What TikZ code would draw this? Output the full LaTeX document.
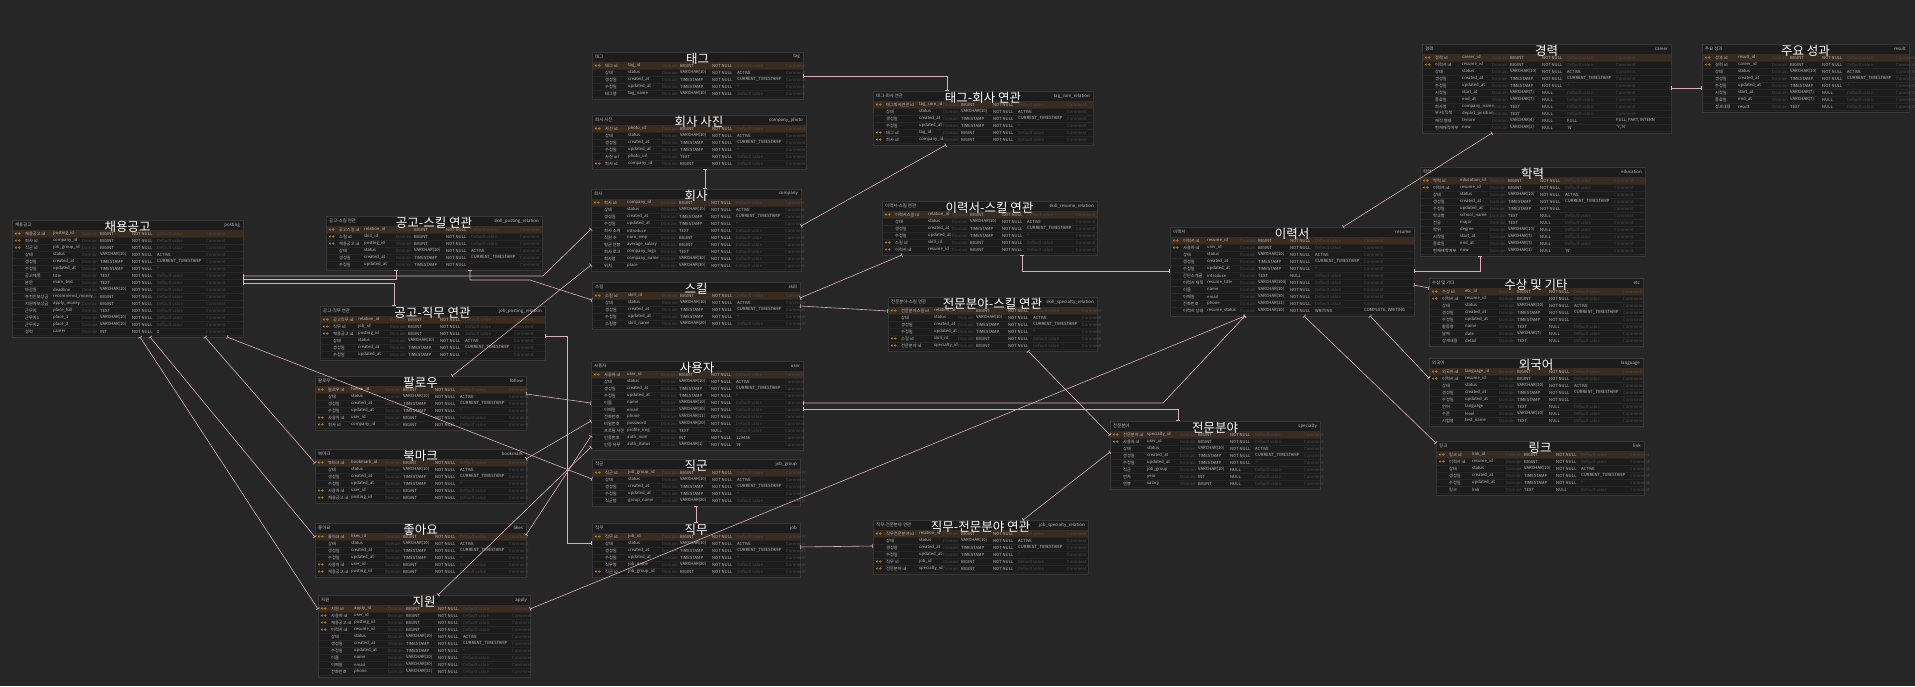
\documentclass[tikz,border=0pt]{standalone}
\usepackage{fontspec}
\setmainfont{Noto Sans CJK KR}
\usetikzlibrary{arrows.meta,calc}
\definecolor{bgc}{HTML}{262626}
\definecolor{tabfill}{HTML}{1C1C1C}
\definecolor{tabline}{HTML}{363636}
\definecolor{pkfill}{HTML}{3A2B20}
\definecolor{txt}{HTML}{BDBDBD}
\definecolor{dimc}{HTML}{4A4A4A}
\definecolor{keyc}{HTML}{B8862B}
\definecolor{relc}{HTML}{D9AEBF}
\definecolor{sepc}{HTML}{262626}
\tikzset{
 tabbox/.style={draw=tabline, fill=tabfill, line width=0.5pt, inner sep=0pt, rectangle},
 cell/.style={font=\fontsize{4.2}{4.5}\selectfont, text=txt, inner sep=0pt, anchor=west},
 dimcell/.style={cell, text=dimc},
 hdr/.style={font=\fontsize{4.4}{5}\selectfont, text=txt, inner sep=0pt},
 ttl/.style={font=\fontsize{12.5}{13}\selectfont, text=white, inner sep=0pt},
 rowsep/.style={draw=sepc, line width=0.4pt},
 keyicon/.style={draw=keyc, line width=0.45pt},
 rel/.style={draw=relc, line width=0.6pt, >={Bar[width=4pt]}, <->},
}
\newcommand\pp[3]{($(#1.north west)+(#2,#3)$)}
\def\px{36}
\newcommand\T[8]{%
 \pgfmathsetmacro\tx{#2}\pgfmathsetmacro\ty{#3}\pgfmathsetmacro\tw{#4}%
 \pgfmathsetmacro\th{12+7*#5}%
 \node[tabbox, minimum width=\tw pt, minimum height=\th pt, anchor=north west] (#1) at (\tx,\ty) {};
 \fill[pkfill] (\tx+0.5,\ty+10) rectangle (\tx+\tw-0.5,\ty+17);
 \node[hdr, anchor=west] at (\tx+3,\ty+5) {#6};
 \node[hdr, anchor=east] at (\tx+\tw-3,\ty+5) {#8};
 \node[ttl] at (\tx+0.5*\tw,\ty+6.5) {#7};
}
\newcommand\Rw[8]{%
 \pgfmathsetmacro\ry{\ty+13.5+7*(#1-1)}%
 \draw[rowsep] (\tx+0.5,\ry+3.5) -- (\tx+\tw-0.5,\ry+3.5);
 \if\relax\detokenize{#2}\relax\else
  \draw[keyicon] (\tx+4.2,\ry) circle (0.9pt) (\tx+7.4,\ry) circle (0.9pt);
 \fi
 \node[cell] at (\tx+13,\ry) {#3};
 \node[cell] at (\tx+\px,\ry) {#4};
 \node[dimcell] at (\tx+70,\ry) {Domain};
 \node[cell] at (\tx+88,\ry) {#5};
 \node[cell] at (\tx+120,\ry) {#6};
 \if\relax\detokenize{#7}\relax \node[dimcell] at (\tx+145,\ry) {Default value};\else \node[cell] at (\tx+145,\ry) {#7};\fi
 \if\relax\detokenize{#8}\relax \node[dimcell] at (\tx+194,\ry) {Comment};\else \node[cell] at (\tx+194,\ry) {#8};\fi
}
\newcommand\Rst[1]{\Rw{#1}{}{상태}{status}{VARCHAR(10)}{NOT NULL}{ACTIVE}{}}
\newcommand\Rcr[1]{\Rw{#1}{}{생성일}{created\_at}{TIMESTAMP}{NOT NULL}{CURRENT\_TIMESTAMP}{}}
\newcommand\Rup[1]{\Rw{#1}{}{수정일}{updated\_at}{TIMESTAMP}{NOT NULL}{..}{}}
\newcommand\Rid[4]{\Rw{#1}{K}{#2}{#3}{BIGINT}{NOT NULL}{}{}}
\begin{document}
\begin{tikzpicture}[x=1pt,y=-1pt]
\useasboundingbox (0,0) rectangle (1915,686);
\fill[bgc] (0,0) rectangle (1915,686);

% ---------------- tables ----------------
\def\px{41}
\T{posting}{12}{220}{231}{15}{채용공고}{채용공고}{posting}
\Rid{1}{채용공고 id}{posting\_id}{}
\Rid{2}{회사 id}{company\_id}{}
\Rid{3}{직군 id}{job\_group\_id}{}
\Rst{4}\Rcr{5}\Rup{6}
\Rw{7}{}{공고제목}{title}{TEXT}{NOT NULL}{}{}
\Rw{8}{}{본문}{main\_text}{TEXT}{NOT NULL}{}{}
\Rw{9}{}{마감일}{deadline}{VARCHAR(10)}{NOT NULL}{}{}
\Rw{10}{}{추천인보상금}{recommend\_money}{BIGINT}{NOT NULL}{}{}
\Rw{11}{}{지원자보상금}{apply\_money}{BIGINT}{NOT NULL}{}{}
\Rw{12}{}{근무지}{place\_full}{TEXT}{NOT NULL}{}{}
\Rw{13}{}{근무지1}{place\_1}{VARCHAR(10)}{NOT NULL}{}{}
\Rw{14}{}{근무지2}{place\_2}{VARCHAR(10)}{NOT NULL}{}{}
\Rw{15}{}{경력}{career}{INT}{NOT NULL}{0}{}
\def\px{38}
\T{skillposting}{326}{216}{216}{6}{공고-스킬 연관}{공고-스킬 연관}{skill\_posting\_relation}
\Rid{1}{공고스킬 id}{relation\_id}{}
\Rid{2}{스킬 id}{skill\_id}{}
\Rid{3}{채용공고 id}{posting\_id}{}
\Rst{4}\Rcr{5}\Rup{6}

\T{jobposting}{320}{306}{225}{6}{공고-직무 연관}{공고-직무 연관}{job\_posting\_relation}
\Rid{1}{공고직무 id}{relation\_id}{}
\Rid{2}{직무 id}{job\_id}{}
\Rid{3}{채용공고 id}{posting\_id}{}
\Rst{4}\Rcr{5}\Rup{6}
\def\px{36}
\T{follow}{315}{376}{211}{6}{팔로우}{팔로우}{follow}
\Rid{1}{팔로우 id}{follow\_id}{}
\Rst{2}\Rcr{3}\Rup{4}
\Rid{5}{사용자 id}{user\_id}{}
\Rid{6}{회사 id}{company\_id}{}

\T{bookmark}{315}{449}{211}{6}{북마크}{북마크}{bookmark}
\Rid{1}{북마크 id}{bookmark\_id}{}
\Rst{2}\Rcr{3}\Rup{4}
\Rid{5}{사용자 id}{user\_id}{}
\Rid{6}{채용공고 id}{posting\_id}{}

\T{likes}{315}{523}{211}{6}{좋아요}{좋아요}{likes}
\Rid{1}{좋아요 id}{likes\_id}{}
\Rst{2}\Rcr{3}\Rup{4}
\Rid{5}{사용자 id}{user\_id}{}
\Rid{6}{채용공고 id}{posting\_id}{}

\T{apply}{318}{595}{212}{10}{지원}{지원}{apply}
\Rid{1}{지원 id}{apply\_id}{}
\Rid{2}{사용자 id}{user\_id}{}
\Rid{3}{채용공고 id}{posting\_id}{}
\Rid{4}{이력서 id}{resume\_id}{}
\Rst{5}\Rcr{6}\Rup{7}
\Rw{8}{}{이름}{name}{VARCHAR(10)}{NOT NULL}{}{}
\Rw{9}{}{이메일}{email}{VARCHAR(30)}{NOT NULL}{}{}
\Rw{10}{}{전화번호}{phone}{VARCHAR(11)}{NOT NULL}{}{}

\T{tag}{592}{52}{211}{5}{태그}{태그}{tag}
\Rid{1}{태그 id}{tag\_id}{}
\Rst{2}\Rcr{3}\Rup{4}
\Rw{5}{}{태그명}{tag\_name}{VARCHAR(10)}{NOT NULL}{}{}

\T{cphoto}{592}{115}{214}{6}{회사 사진}{회사 사진}{company\_photo}
\Rid{1}{사진 id}{photo\_id}{}
\Rst{2}\Rcr{3}\Rup{4}
\Rw{5}{}{사진 url}{photo\_url}{TEXT}{NOT NULL}{}{}
\Rid{6}{회사 id}{company\_id}{}

\T{company}{591}{189}{210}{10}{회사}{회사}{company}
\Rid{1}{회사 id}{company\_id}{}
\Rst{2}\Rcr{3}\Rup{4}
\Rw{5}{}{회사 소개}{introduce}{TEXT}{NOT NULL}{}{}
\Rw{6}{}{직원 수}{num\_emp}{BIGINT}{NOT NULL}{}{}
\Rw{7}{}{평균 연봉}{average\_salary}{BIGINT}{NOT NULL}{}{}
\Rw{8}{}{회사 로고}{company\_logo}{TEXT}{NOT NULL}{}{}
\Rw{9}{}{회사명}{company\_name}{VARCHAR(30)}{NOT NULL}{}{}
\Rw{10}{}{위치}{place}{VARCHAR(30)}{NOT NULL}{}{}

\T{skill}{592}{282}{208}{5}{스킬}{스킬}{skill}
\Rid{1}{스킬 id}{skill\_id}{}
\Rst{2}\Rcr{3}\Rup{4}
\Rw{5}{}{스킬명}{skill\_name}{VARCHAR(20)}{NOT NULL}{}{}

\T{user}{591}{361}{212}{11}{사용자}{사용자}{user}
\Rid{1}{사용자 id}{user\_id}{}
\Rst{2}\Rcr{3}\Rup{4}
\Rw{5}{}{이름}{name}{VARCHAR(10)}{NOT NULL}{}{}
\Rw{6}{}{이메일}{email}{VARCHAR(30)}{NOT NULL}{}{}
\Rw{7}{}{전화번호}{phone}{VARCHAR(11)}{NOT NULL}{}{}
\Rw{8}{}{비밀번호}{password}{VARCHAR(20)}{NOT NULL}{}{}
\Rw{9}{}{프로필 사진}{profile\_img}{TEXT}{NULL}{}{}
\Rw{10}{}{인증번호}{auth\_num}{INT}{NOT NULL}{123456}{}
\Rw{11}{}{인증 유무}{auth\_status}{VARCHAR(1)}{NOT NULL}{'N'}{}

\T{jobgroup}{592}{459}{208}{5}{직군}{직군}{job\_group}
\Rid{1}{직군 id}{job\_group\_id}{}
\Rst{2}\Rcr{3}\Rup{4}
\Rw{5}{}{직군명}{group\_name}{VARCHAR(20)}{NOT NULL}{}{}

\T{job}{592}{523}{208}{6}{직무}{직무}{job}
\Rid{1}{직무 id}{job\_id}{}
\Rst{2}\Rcr{3}\Rup{4}
\Rw{5}{}{직무명}{job\_name}{VARCHAR(20)}{NOT NULL}{}{}
\Rid{6}{직군 id}{job\_group\_id}{}
\def\px{46}
\T{tagcom}{873}{91}{220}{6}{태그-회사 연관}{태그-회사 연관}{tag\_com\_relation}
\Rid{1}{태그회사연관 id}{tag\_com\_id}{}
\Rst{2}\Rcr{3}\Rup{4}
\Rid{5}{태그 id}{tag\_id}{}
\Rid{6}{회사 id}{company\_id}{}

\T{skillresume}{882}{201}{215}{6}{이력서-스킬 연관}{이력서-스킬 연관}{skill\_resume\_relation}
\Rid{1}{이력서스킬 id}{relation\_id}{}
\Rst{2}\Rcr{3}\Rup{4}
\Rid{5}{스킬 id}{skill\_id}{}
\Rid{6}{이력서 id}{resume\_id}{}

\T{skillspec}{888}{297}{209}{6}{전문분야-스킬 연관}{전문분야-스킬 연관}{skill\_specialty\_relation}
\Rid{1}{전문분야스킬 id}{relation\_id}{}
\Rst{2}\Rcr{3}\Rup{4}
\Rid{5}{스킬 id}{skill\_id}{}
\Rid{6}{전문분야 id}{specialty\_id}{}

\T{jobspec}{873}{520}{215}{6}{직무-전문분야 연관}{직무-전문분야 연관}{job\_specialty\_relation}
\Rid{1}{직무전문분야 id}{relation\_id}{}
\Rst{2}\Rcr{3}\Rup{4}
\Rid{5}{직무 id}{job\_id}{}
\Rid{6}{전문분야 id}{specialty\_id}{}
\def\px{37}
\T{specialty}{1110}{421}{210}{8}{전문분야}{전문분야}{specialty}
\Rid{1}{전문분야 id}{specialty\_id}{}
\Rid{2}{사용자 id}{user\_id}{}
\Rst{3}\Rcr{4}\Rup{5}
\Rw{6}{}{직군}{job\_group}{VARCHAR(10)}{NULL}{}{}
\Rw{7}{}{연차}{year}{INT}{NULL}{}{}
\Rw{8}{}{연봉}{salary}{BIGINT}{NULL}{}{}

\T{resume}{1170}{227}{244}{11}{이력서}{이력서}{resume}
\Rid{1}{이력서 id}{resume\_id}{}
\Rid{2}{사용자 id}{user\_id}{}
\Rst{3}\Rcr{4}\Rup{5}
\Rw{6}{}{간단소개글}{introduce}{TEXT}{NULL}{}{}
\Rw{7}{}{이력서 제목}{resume\_title}{VARCHAR(100)}{NOT NULL}{}{}
\Rw{8}{}{이름}{name}{VARCHAR(10)}{NOT NULL}{}{}
\Rw{9}{}{이메일}{email}{VARCHAR(30)}{NOT NULL}{}{}
\Rw{10}{}{전화번호}{phone}{VARCHAR(11)}{NOT NULL}{}{}
\Rw{11}{}{이력서 상태}{resume\_status}{VARCHAR(10)}{NOT NULL}{WRITING}{COMPLETE, WRITING}
\def\px{40}
\T{career}{1422}{44}{249}{11}{경력}{경력}{career}
\Rid{1}{경력 id}{career\_id}{}
\Rid{2}{이력서 id}{resume\_id}{}
\Rst{3}\Rcr{4}\Rup{5}
\Rw{6}{}{시작일}{start\_at}{VARCHAR(7)}{NULL}{}{}
\Rw{7}{}{종료일}{end\_at}{VARCHAR(7)}{NULL}{}{}
\Rw{8}{}{회사명}{company\_name}{TEXT}{NULL}{}{}
\Rw{9}{}{부서/직책}{depart\_position}{TEXT}{NULL}{}{}
\Rw{10}{}{재직 형태}{tenure}{VARCHAR(4)}{NULL}{FULL}{FULL, PART, INTERN}
\Rw{11}{}{현재재직여부}{now}{VARCHAR(1)}{NULL}{'N'}{'Y','N'}
\def\px{36}
\T{result}{1702}{44}{207}{8}{주요 성과}{주요 성과}{result}
\Rid{1}{성과 id}{result\_id}{}
\Rid{2}{경력 id}{career\_id}{}
\Rst{3}\Rcr{4}\Rup{5}
\Rw{6}{}{시작일}{start\_at}{VARCHAR(7)}{NULL}{}{}
\Rw{7}{}{종료일}{end\_at}{VARCHAR(7)}{NULL}{}{}
\Rw{8}{}{성과내용}{result}{TEXT}{NULL}{}{}
\def\px{40}
\T{education}{1420}{167}{225}{11}{학력}{학력}{education}
\Rid{1}{학력 id}{education\_id}{}
\Rid{2}{이력서 id}{resume\_id}{}
\Rst{3}\Rcr{4}\Rup{5}
\Rw{6}{}{학교명}{school\_name}{TEXT}{NULL}{}{}
\Rw{7}{}{전공}{major}{TEXT}{NULL}{}{}
\Rw{8}{}{학위}{degree}{VARCHAR(10)}{NULL}{}{}
\Rw{9}{}{시작일}{start\_at}{VARCHAR(7)}{NULL}{}{}
\Rw{10}{}{종료일}{end\_at}{VARCHAR(7)}{NULL}{}{}
\Rw{11}{}{현재재학여부}{now}{VARCHAR(1)}{NULL}{'N'}{}
\def\px{36}
\T{award}{1429}{278}{214}{8}{수상 및 기타}{수상 및 기타}{etc}
\Rid{1}{수상 id}{etc\_id}{}
\Rid{2}{이력서 id}{resume\_id}{}
\Rst{3}\Rcr{4}\Rup{5}
\Rw{6}{}{활동명}{name}{TEXT}{NULL}{}{}
\Rw{7}{}{날짜}{date}{VARCHAR(7)}{NULL}{}{}
\Rw{8}{}{상세내용}{detail}{TEXT}{NULL}{}{}

\T{language}{1429}{358}{214}{8}{외국어}{외국어}{language}
\Rid{1}{외국어 id}{language\_id}{}
\Rid{2}{이력서 id}{resume\_id}{}
\Rst{3}\Rcr{4}\Rup{5}
\Rw{6}{}{언어}{language}{TEXT}{NULL}{}{}
\Rw{7}{}{수준}{level}{VARCHAR(10)}{NULL}{}{}
\Rw{8}{}{시험명}{test\_name}{TEXT}{NULL}{}{}

\T{link}{1436}{441}{208}{6}{링크}{링크}{link}
\Rid{1}{링크 id}{link\_id}{}
\Rid{2}{이력서 id}{resume\_id}{}
\Rst{3}\Rcr{4}\Rup{5}
\Rw{6}{}{링크}{link}{TEXT}{NULL}{}{}

% ---------------- relations ----------------
\draw[rel] \pp{tag}{211}{24} -| \pp{tagcom}{74}{0};
\draw[rel] \pp{company}{210}{37} -- \pp{tagcom}{73}{54};
\draw[rel] \pp{company}{114}{0} -- \pp{cphoto}{113}{54};
\draw[rel] \pp{posting}{231}{56} -- ++(300,0) -- \pp{company}{0}{40};
\draw[rel] \pp{posting}{231}{59} -| \pp{skillposting}{70}{54};
\draw[rel] \pp{skillposting}{144}{54} -- ++(0,10) -- ++(60,0) -- \pp{skill}{0}{18};
\draw[rel] \pp{posting}{231}{63} -| \pp{jobposting}{74}{0};
\draw[rel] \pp{jobposting}{225}{30} -- ++(22,0) |- \pp{job}{0}{20};
\draw[rel] \pp{follow}{211}{18} -- \pp{user}{0}{42};
\draw[rel] \pp{follow}{137}{0} -- \pp{company}{0}{76};
\draw[rel] \pp{bookmark}{211}{10} -- \pp{user}{0}{60};
\draw[rel] \pp{likes}{211}{12} -- \pp{user}{0}{75};
\draw[rel] \pp{apply}{120}{0} -- \pp{user}{0}{86};
\draw[rel] \pp{posting}{193}{117} -- \pp{bookmark}{0}{14};
\draw[rel] \pp{posting}{138}{117} -- \pp{likes}{0}{14};
\draw[rel] \pp{posting}{128}{117} -- \pp{apply}{0}{14};
\draw[rel] \pp{posting}{215}{117} -- \pp{jobgroup}{0}{20};
\draw[rel] \pp{jobgroup}{104}{47} -- \pp{job}{104}{0};
\draw[rel] \pp{job}{208}{24} -- \pp{jobspec}{0}{26};
\draw[rel] \pp{user}{212}{42} -- ++(360,0) -- \pp{resume}{75}{89};
\draw[rel] \pp{user}{212}{48} -| \pp{specialty}{68}{0};
\draw[rel] \pp{specialty}{0}{31} -- \pp{jobspec}{150}{0};
\draw[rel] \pp{specialty}{0}{14} -- \pp{skillspec}{140}{54};
\draw[rel] \pp{skill}{208}{24} -- \pp{skillspec}{0}{14};
\draw[rel] \pp{skill}{208}{16} -- \pp{skillresume}{20}{54};
\draw[rel] \pp{skillresume}{140}{54} |- \pp{resume}{0}{44};
\draw[rel] \pp{resume}{173}{0} -- \pp{career}{70}{89};
\draw[rel] \pp{career}{249}{44} -- \pp{result}{0}{44};
\draw[rel] \pp{resume}{244}{44} -| \pp{education}{60}{89};
\draw[rel] \pp{resume}{244}{58} -- \pp{award}{0}{10};
\draw[rel] \pp{resume}{200}{89} -- \pp{language}{0}{20};
\draw[rel] \pp{resume}{134}{89} -- \pp{link}{0}{2};
\draw[rel] \pp{resume}{75}{89} -- \pp{apply}{212}{14};
\end{tikzpicture}
\end{document}
